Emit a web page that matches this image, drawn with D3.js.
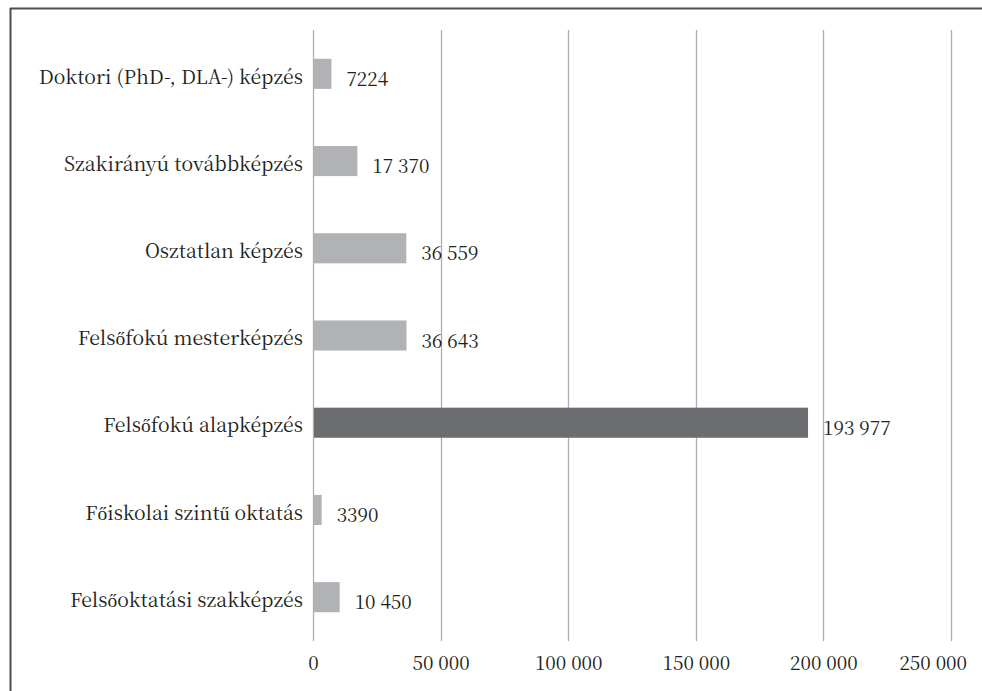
<!DOCTYPE html>
<html><head><meta charset="utf-8">
<script src="https://cdn.jsdelivr.net/npm/d3@7"></script>
</head>
<body style="margin:0;background:#fff">
<svg id="chart" width="982" height="691"></svg>
<script>
const categories = [
  "Doktori (PhD-, DLA-) képzés",
  "Szakirányú továbbképzés",
  "Osztatlan képzés",
  "Felsőfokú mesterképzés",
  "Felsőfokú alapképzés",
  "Főiskolai szintű oktatás",
  "Felsőoktatási szakképzés"
];
const values = [7224, 17370, 36559, 36643, 193977, 3390, 10450];
const highlighted = ["Felsőfokú alapképzés"];
const tickValues = [0, 50000, 100000, 150000, 200000, 250000];

(function () {
const svg = d3.select("#chart");
const W = 982, H = 691;
const mLeft = 313, mRight = 951, mTop = 30, mBottom = 641;
const FONT = '"Noto Serif CJK SC", "Liberation Serif", monospace';
const INK = "#231f20";

svg.append("line").attr("x1", 10).attr("x2", W).attr("y1", 8.5).attr("y2", 8.5)
  .attr("stroke", "#4d4d4d").attr("stroke-width", 2);
svg.append("line").attr("x1", 10.5).attr("x2", 10.5).attr("y1", 8).attr("y2", H)
  .attr("stroke", "#4d4d4d").attr("stroke-width", 2);

const x = d3.scaleLinear().domain([0, 250000]).range([mLeft, mRight]);
const y = d3.scaleBand().domain(categories).range([mTop, mBottom]).paddingInner(0.655).paddingOuter(0.33);

const fmt = v => v >= 10000 ? d3.format(",")(v).replace(/,/g, " ") : String(v);

svg.append("g").selectAll("line").data(tickValues).join("line")
  .attr("x1", d => Math.round(x(d)) + 0.5).attr("x2", d => Math.round(x(d)) + 0.5)
  .attr("y1", mTop).attr("y2", mBottom)
  .attr("stroke", "#aeaeae").attr("stroke-width", 1.3);

svg.append("g").selectAll("rect").data(categories).join("rect")
  .attr("x", x(0) + 1)
  .attr("y", d => y(d))
  .attr("width", (d, i) => x(values[i]) - x(0) - 1)
  .attr("height", y.bandwidth())
  .attr("fill", d => highlighted.includes(d) ? "#6c6d71" : "#b1b2b5");

const xAxis = d3.axisBottom(x).tickValues(tickValues).tickFormat(fmt).tickSize(0).tickPadding(0);
const gx = svg.append("g").attr("transform", `translate(0,${mBottom})`).call(xAxis);
gx.attr("font-family", null).attr("font-size", null);
gx.select(".domain").remove();
gx.selectAll("text").style("font-family", FONT).attr("font-size", 19)
  .attr("dy", null).attr("y", 29).attr("fill", INK);

const yAxis = d3.axisLeft(y).tickSize(0).tickPadding(10);
const gy = svg.append("g").attr("transform", `translate(${mLeft},0)`).call(yAxis);
gy.attr("font-family", null).attr("font-size", null);
gy.select(".domain").remove();
gy.selectAll("text").style("font-family", FONT).attr("font-size", 19.5)
  .attr("dy", "0.5em").attr("fill", INK);

svg.append("g").selectAll("text").data(categories).join("text")
  .style("font-family", FONT).attr("font-size", 19)
  .attr("fill", INK)
  .attr("x", (d, i) => x(values[i]) + 15)
  .attr("y", d => y(d) + y.bandwidth() / 2 + 12)
  .text((d, i) => fmt(values[i]));

function clampTicks() {
  gx.selectAll(".tick text").attr("x", null).each(function () {
    const bb = this.getBBox();
    const tx = +this.parentNode.getAttribute("transform").match(/translate\(([-\d.]+)/)[1];
    const over = tx + bb.x + bb.width - (W - 15);
    if (over > 0) d3.select(this).attr("x", -over);
  });
}
clampTicks();
if (document.fonts && document.fonts.ready) document.fonts.ready.then(clampTicks);
})();
</script>
</body></html>
